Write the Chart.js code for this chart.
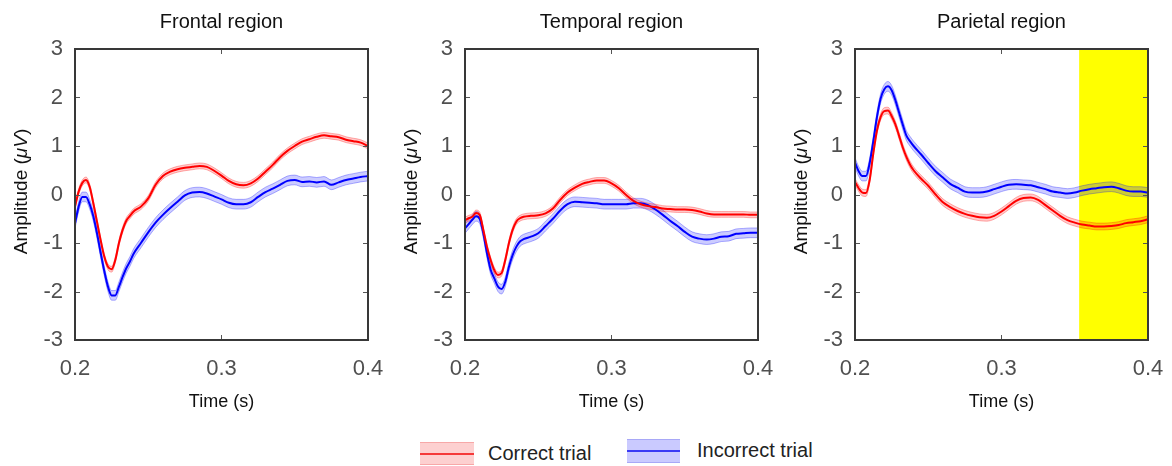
<!DOCTYPE html>
<html><head><meta charset="utf-8">
<script src="https://cdn.jsdelivr.net/npm/chart.js@4.4.1/dist/chart.umd.min.js"></script>
<style>
html,body{margin:0;padding:0;background:#fff;}
#wrap{position:relative;width:1172px;height:466px;overflow:hidden;font-family:"Liberation Sans",Arial,sans-serif;}
#wrap canvas{position:absolute;top:0;}
.sw{position:absolute;box-sizing:border-box;}
.sw i{position:absolute;left:0;right:0;height:2px;top:50%;margin-top:-1px;}
.lt{position:absolute;font-size:20px;color:#222;white-space:nowrap;height:24px;line-height:24px;}
</style></head><body><div id="wrap">
<canvas id="c0" width="390" height="420" style="left:0px"></canvas>
<canvas id="c1" width="390" height="420" style="left:390px"></canvas>
<canvas id="c2" width="390" height="420" style="left:780px"></canvas>
<div class="sw" style="left:420px;top:442px;width:54px;height:23px;background:#fdd0d0;border-top:1px solid #f7a8a8;border-bottom:1px solid #f7a8a8;"><i style="background:#f53a3a"></i></div>
<div class="lt" style="left:488px;top:441px;">Correct trial</div>
<div class="sw" style="left:627px;top:439px;width:53px;height:24px;background:#cacaff;border-top:1px solid #a8a8f7;border-bottom:1px solid #a8a8f7;"><i style="background:#3a3af5"></i></div>
<div class="lt" style="left:697px;top:438px;">Incorrect trial</div>
</div>
<script>
// ---- data ----
const TIMES = [0.2000,0.2025,0.2050,0.2075,0.2100,0.2125,0.2150,0.2175,0.2200,0.2225,0.2250,0.2275,0.2300,0.2325,0.2350,0.2375,0.2400,
  0.245,0.250,0.255,0.260,0.265,0.270,0.275,0.280,0.285,0.290,0.295,0.300,0.305,0.310,0.315,0.320,0.325,0.330,0.335,0.340,0.345,0.350,
  0.355,0.360,0.365,0.370,0.375,0.380,0.385,0.390,0.395,0.400];

const PANEL_TITLES = ["Frontal region", "Temporal region", "Parietal region"];
const SERIES_LABELS = ["Correct trial", "Incorrect trial"];
const X_TICKS = [0.2, 0.3, 0.4];
const Y_TICKS = [-3, -2, -1, 0, 1, 2, 3];
const PARIETAL_HIGHLIGHT = [0.353, 0.4];

const FRONTAL_CORRECT = [-0.25,0.06,0.24,0.30,0.16,-0.18,-0.56,-0.94,-1.28,-1.49,-1.54,-1.35,-1.0,-0.73,-0.54,-0.44,-0.35,
  -0.25,-0.08,
  0.2,0.38,0.47,0.52,0.55,0.57,0.59,0.57,0.49,0.39,
  0.28,0.21,0.19,0.23,0.33,0.47,0.61,0.77,0.9,1.0,
  1.09,1.14,1.19,1.22,1.2,1.18,1.13,1.1,1.07,1.0];
const FRONTAL_INCORRECT = [-0.6,-0.25,-0.05,-0.05,-0.2,-0.45,-0.8,-1.2,-1.58,-1.9,-2.08,-2.08,-1.9,-1.7,-1.52,-1.38,-1.22,
  -1.0,-0.78,
  -0.58,-0.42,-0.28,-0.15,-0.02,0.04,0.05,0.02,-0.04,-0.1,
  -0.17,-0.2,-0.2,-0.16,-0.05,0.05,0.12,0.2,0.28,0.3,
  0.26,0.27,0.25,0.27,0.2,0.25,0.3,0.33,0.36,0.38];

const TEMPORAL_CORRECT = [-0.53,-0.49,-0.46,-0.38,-0.42,-0.73,-1.08,-1.35,-1.56,-1.66,-1.62,-1.35,-1.0,-0.73,-0.56,-0.49,-0.46,
  -0.44,-0.43,
  -0.39,-0.29,-0.11,0.04,0.14,0.22,0.26,0.29,0.29,0.23,
  0.13,-0.01,-0.13,-0.2,-0.24,-0.26,-0.29,-0.3,-0.31,-0.31,
  -0.32,-0.35,-0.39,-0.41,-0.41,-0.41,-0.41,-0.41,-0.42,-0.42];
const TEMPORAL_INCORRECT = [-0.7,-0.61,-0.52,-0.45,-0.5,-0.8,-1.21,-1.55,-1.73,-1.9,-1.95,-1.8,-1.49,-1.25,-1.08,-0.97,-0.92,
  -0.87,-0.8,
  -0.65,-0.5,-0.33,-0.2,-0.15,-0.16,-0.17,-0.18,-0.2,-0.2,
  -0.2,-0.2,-0.18,-0.18,-0.22,-0.31,-0.42,-0.54,-0.65,-0.77,
  -0.87,-0.91,-0.93,-0.91,-0.87,-0.86,-0.81,-0.8,-0.79,-0.79];

const PARIETAL_CORRECT = [0.26,0.13,0.04,0.03,0.3,0.85,1.32,1.6,1.72,1.73,1.62,1.45,1.22,0.98,0.78,0.62,0.5,
  0.33,0.18,
  0.0,-0.16,-0.26,-0.34,-0.4,-0.44,-0.47,-0.48,-0.44,-0.35,
  -0.24,-0.13,-0.07,-0.06,-0.11,-0.22,-0.33,-0.44,-0.53,-0.58,
  -0.62,-0.64,-0.66,-0.66,-0.65,-0.63,-0.59,-0.57,-0.55,-0.51];
const PARIETAL_INCORRECT = [0.66,0.48,0.38,0.38,0.65,1.1,1.6,1.98,2.17,2.23,2.15,1.95,1.7,1.45,1.22,1.1,1.0,
  0.83,0.65,
  0.48,0.35,0.22,0.14,0.06,0.04,0.04,0.06,0.11,0.16,
  0.2,0.21,0.2,0.19,0.15,0.11,0.06,0.04,0.02,0.04,
  0.08,0.11,0.13,0.15,0.16,0.13,0.08,0.06,0.06,0.04];

// standard-error band half widths (per panel: [correct, incorrect])
const SEM_FRONTAL = [0.06, 0.1];
const SEM_TEMPORAL = [0.06, 0.1];
const SEM_PARIETAL = [0.07, 0.1];

// ---- drawing ----
const FONT = '"Liberation Sans", Arial, sans-serif';

const decor = {
  id: 'decor',
  beforeDatasetsDraw(chart, args, opts) {
    const {ctx, chartArea: a, scales: {x}} = chart;
    if (opts.highlight) {
      const x0 = x.getPixelForValue(opts.highlight[0]);
      const x1 = x.getPixelForValue(opts.highlight[1]);
      ctx.save();
      ctx.fillStyle = '#ffff00';
      ctx.fillRect(x0, a.top, x1 - x0, a.bottom - a.top);
      ctx.restore();
    }
  },
  afterDatasetsDraw(chart) {
    const {ctx, chartArea: a, scales: {x, y}} = chart;
    ctx.save();
    ctx.strokeStyle = '#555';
    ctx.lineWidth = 1;
    ctx.beginPath();
    const L = 5;
    y.ticks.forEach(t => {
      const py = Math.round(y.getPixelForValue(t.value)) + 0.5;
      ctx.moveTo(a.left, py); ctx.lineTo(a.left + L, py);
      ctx.moveTo(a.right, py); ctx.lineTo(a.right - L, py);
    });
    x.ticks.forEach(t => {
      const px = Math.round(x.getPixelForValue(t.value)) + 0.5;
      ctx.moveTo(px, a.bottom); ctx.lineTo(px, a.bottom - L);
      ctx.moveTo(px, a.top); ctx.lineTo(px, a.top + L);
    });
    ctx.stroke();
    ctx.strokeStyle = '#383838';
    ctx.lineWidth = 2;
    ctx.strokeRect(a.left, a.top, a.right - a.left, a.bottom - a.top);
    ctx.restore();
  },
  afterDraw(chart, args, opts) {
    const {ctx, chartArea: a} = chart;
    ctx.save();
    ctx.fillStyle = '#111';
    ctx.textBaseline = 'middle';
    ctx.textAlign = 'center';
    ctx.font = '20px ' + FONT;
    ctx.fillText(opts.title, (a.left + a.right) / 2, 22);
    // y-axis title with italic unit
    const parts = [['Amplitude (', '19px ' + FONT], ['\u03bcV', 'italic 19px ' + FONT], [')', '19px ' + FONT]];
    let total = 0;
    parts.forEach(p => { ctx.font = p[1]; total += ctx.measureText(p[0]).width; });
    ctx.translate(22, (a.top + a.bottom) / 2 - 3);
    ctx.rotate(-Math.PI / 2);
    ctx.textAlign = 'left';
    let cx = -total / 2;
    parts.forEach(p => { ctx.font = p[1]; ctx.fillText(p[0], cx, 0); cx += ctx.measureText(p[0]).width; });
    ctx.restore();
  }
};

function points(values, offset) {
  return values.map((v, i) => ({x: TIMES[i], y: v + offset}));
}

function makeChart(id, title, correct, incorrect, sem, highlight) {
  const line = {pointRadius: 0, cubicInterpolationMode: 'monotone', borderWidth: 2};
  const band = {pointRadius: 0, cubicInterpolationMode: 'monotone', borderWidth: 1};
  new Chart(document.getElementById(id), {
    type: 'line',
    data: {
      datasets: [
        Object.assign({label: SERIES_LABELS[0], data: points(correct, 0), borderColor: '#ff0000', fill: false, order: 0}, line),
        Object.assign({label: SERIES_LABELS[1], data: points(incorrect, 0), borderColor: '#0000ff', fill: false, order: 1}, line),
        Object.assign({label: 'c+', data: points(correct, sem[0]), borderColor: 'rgba(255,0,0,0.3)', fill: false, order: 2}, band),
        Object.assign({label: 'c-', data: points(correct, -sem[0]), borderColor: 'rgba(255,0,0,0.3)', backgroundColor: 'rgba(255,0,0,0.2)', fill: '-1', order: 2}, band),
        Object.assign({label: 'i+', data: points(incorrect, sem[1]), borderColor: 'rgba(0,0,255,0.3)', fill: false, order: 3}, band),
        Object.assign({label: 'i-', data: points(incorrect, -sem[1]), borderColor: 'rgba(0,0,255,0.3)', backgroundColor: 'rgba(0,0,255,0.2)', fill: '-1', order: 3}, band)
      ]
    },
    options: {
      responsive: false,
      animation: false,
      devicePixelRatio: 1,
      layout: {padding: {left: 0, right: 22, top: 49, bottom: 0}},
      plugins: {
        legend: {display: false},
        tooltip: {enabled: false},
        title: {display: false},
        decor: {title: title, highlight: highlight}
      },
      scales: {
        x: {
          type: 'linear', min: 0.2, max: 0.4,
          afterBuildTicks: s => { s.ticks = X_TICKS.map(v => ({value: v})); },
          afterFit: s => { s.height = 80; s.paddingLeft = 0; s.paddingRight = 0; },
          grid: {display: false, drawTicks: false},
          border: {display: false},
          ticks: {padding: 16, color: '#505050', font: {size: 22, family: FONT}, maxRotation: 0, autoSkip: false,
                  callback: v => Number(v).toFixed(1)},
          title: {display: true, text: 'Time (s)', color: '#111', font: {size: 18, family: FONT}, padding: {top: 0, bottom: 7}}
        },
        y: {
          type: 'linear', min: -3, max: 3,
          afterBuildTicks: s => { s.ticks = Y_TICKS.map(v => ({value: v})); },
          afterFit: s => { s.width = 75; s.paddingTop = 0; s.paddingBottom = 0; },
          grid: {display: false, drawTicks: false},
          border: {display: false},
          ticks: {padding: 12, color: '#505050', font: {size: 22, family: FONT}, callback: v => String(v)}
        }
      }
    },
    plugins: [decor]
  });
}

makeChart('c0', PANEL_TITLES[0], FRONTAL_CORRECT, FRONTAL_INCORRECT, SEM_FRONTAL, null);
makeChart('c1', PANEL_TITLES[1], TEMPORAL_CORRECT, TEMPORAL_INCORRECT, SEM_TEMPORAL, null);
makeChart('c2', PANEL_TITLES[2], PARIETAL_CORRECT, PARIETAL_INCORRECT, SEM_PARIETAL, PARIETAL_HIGHLIGHT);
</script>
</body></html>
